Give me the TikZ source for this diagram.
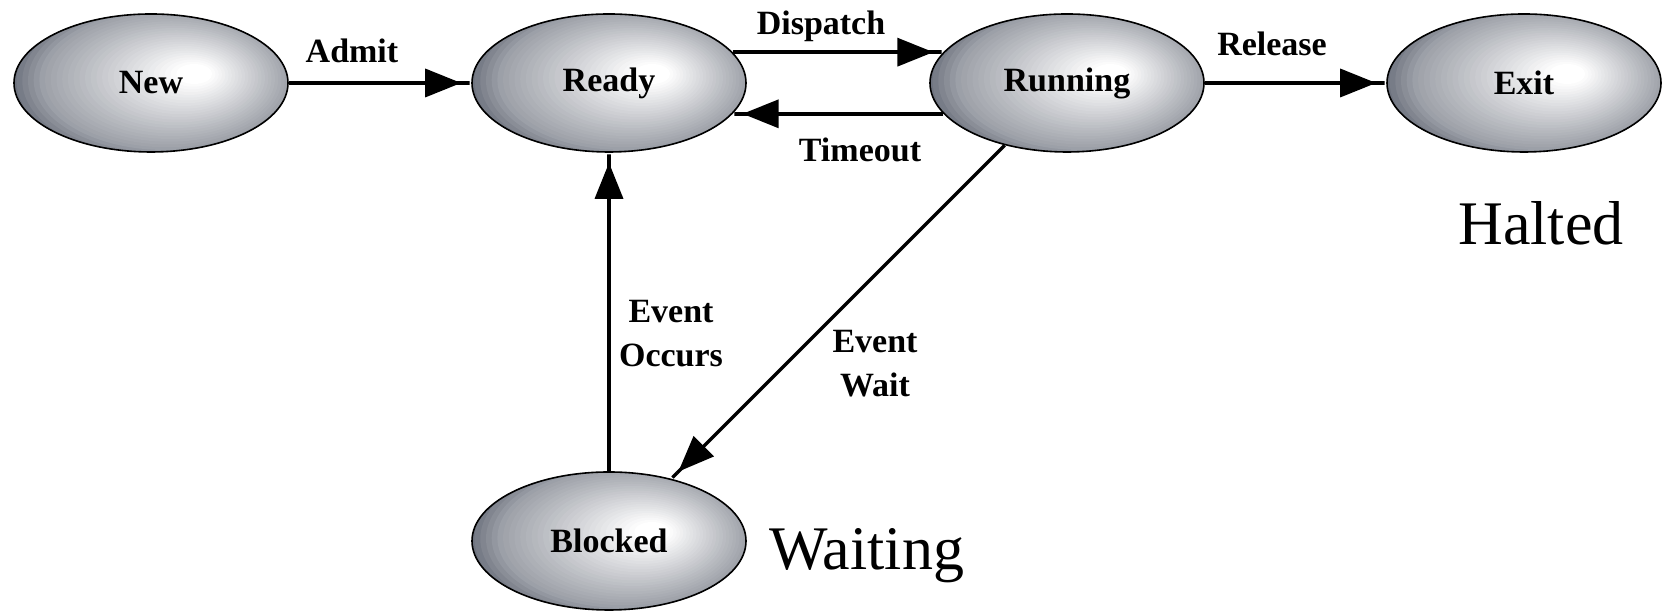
\documentclass[tikz,border=0pt]{standalone}
\usepackage{fontspec}
\setmainfont{Liberation Serif}
\usetikzlibrary{shapes.geometric,arrows.meta,calc}

\definecolor{shadeG}{HTML}{6B707C}

\begin{document}
\begin{tikzpicture}[x=0.5pt, y=0.5pt,
	state/.style={ellipse, draw=black, line width=0.8pt, minimum width=137pt, minimum height=69pt, inner sep=0pt, font=\fontsize{17}{20}\selectfont\bfseries,
		path picture={
			\fill[shadeG, draw=none] (path picture bounding box.south west) rectangle (path picture bounding box.north east);
			\foreach \k in {0,...,39}{
				\pgfmathsetmacro{\sc}{1-\k/40}
				\pgfmathsetmacro{\pc}{max(0,min(100,111*(\sc-0.1)+139*max(0,\sc-0.7)))}
				\fill[shadeG!\pc!white, draw=none] ($(path picture bounding box.center)+({(1-\sc)*24pt},{(1-\sc)*5pt})$) ellipse [x radius=\sc*90pt, y radius=\sc*50pt];
			}}},
	conn/.style={line width=1.7pt, -{Triangle[length=18pt,width=14pt]Rectangle[length=5pt,width=1.7pt]}},
	lbl/.style={font=\fontsize{17}{22}\selectfont\bfseries, inner sep=0pt, align=center},
	bigtag/.style={font=\fontsize{31}{36}\selectfont, inner sep=0pt, anchor=base west}]
	\useasboundingbox (0,0) rectangle (1671,613);
	\node[state] (new) at (151,530) {New};
	\node[state] (ready) at (609,530) {Ready};
	\node[state] (running) at (1067,530) {Running};
	\node[state] (exit) at (1524,530) {Exit};
	\node[state] (blocked) at (609,72) {Blocked};
	\draw[conn] (new) -- (ready);
	\draw[conn] (ready.14) -- (running.166);
	\draw[conn] (running.194) -- (ready.-14);
	\draw[conn] (running) -- (exit);
	\draw[conn] (blocked) -- (ready);
	\draw[conn] (running) -- (blocked);
	\node[lbl, anchor=base] (admit) at (352,550) {Admit};
	\node[lbl, anchor=base] (dispatch) at (821,578) {Dispatch};
	\node[lbl, anchor=base] (timeout) at (860,451) {Timeout};
	\node[lbl, anchor=base] (release) at (1272,557) {Release};
	\node[lbl] (occurs) at (671,279) {Event\\Occurs};
	\node[lbl] (wait) at (875,249) {Event\\Wait};
	\node[bigtag] (halted) at (1458,368) {Halted};
	\node[bigtag] (waiting) at (769,43) {Waiting};
\end{tikzpicture}
\end{document}
